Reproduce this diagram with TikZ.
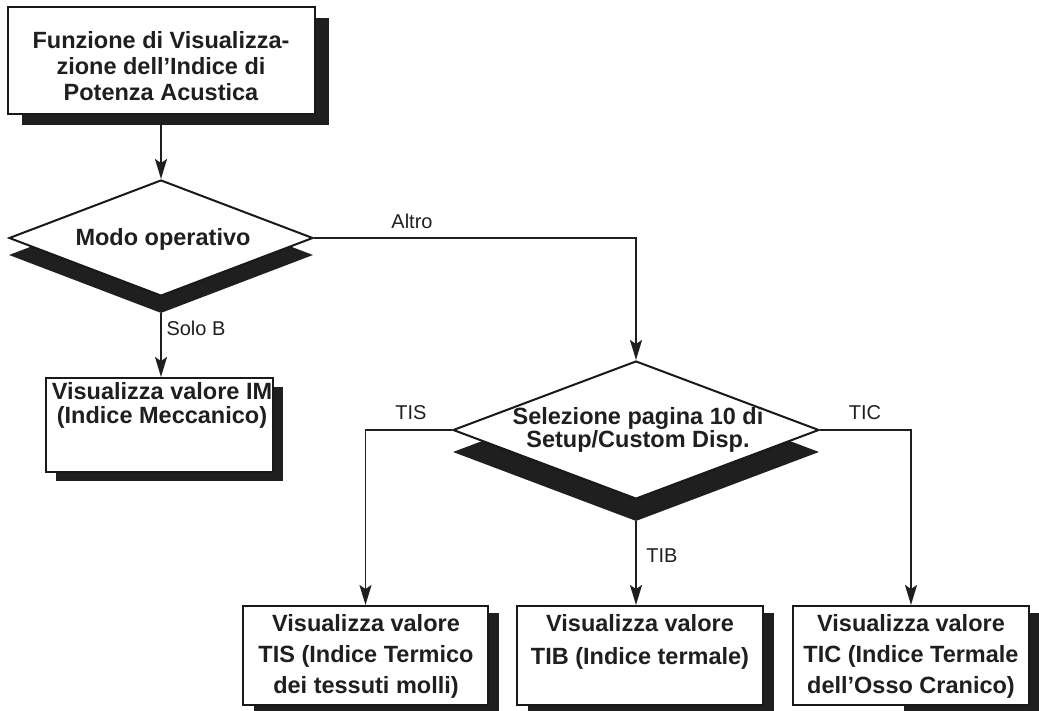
\documentclass[tikz,border=0pt]{standalone}
\usepackage{fontspec}
\setmainfont{Liberation Sans}
\usetikzlibrary{arrows.meta,shapes.geometric}
\begin{document}
\begin{tikzpicture}[x=1pt,y=-1pt,
  box/.style={draw=black!90,line width=2pt,fill=white,inner sep=0pt},
  shadowbox/.style={fill=black!88,draw=none,inner sep=0pt},
  dia/.style={diamond,draw=black!90,line width=2pt,fill=white,inner sep=0pt},
  diashadow/.style={diamond,fill=black!88,draw=none,inner sep=0pt},
  btext/.style={font=\fontsize{23.5}{26}\selectfont\bfseries,align=center,text=black!88,inner sep=0pt},
  ltext/.style={font=\fontsize{20}{24}\selectfont,text=black!88,inner sep=0pt},
  conn/.style={line width=1.9pt,draw=black!88},
  arr/.style={conn,-{Stealth[length=20pt,width=12pt,inset=4pt]}}]
\useasboundingbox (0,0) rectangle (1039,711);

% top box
\node[shadowbox,minimum width=307pt,minimum height=107pt] (tops) at (175,71.5) {};
\node[box,minimum width=307pt,minimum height=107pt] (top) at (161,60.5) {};
\node[btext] (toptxt) at (161,66) {Funzione di Visualizza-\\zione dell'Indice di\\Potenza Acustica};

% diamond 1
\node[diashadow,minimum width=304pt,minimum height=116pt] (d1s) at (161,255) {};
\node[dia,minimum width=304pt,minimum height=116pt] (d1) at (161,238) {};
\node[btext] (d1txt) at (163,239) {Modo operativo};

% IM box
\node[shadowbox,minimum width=227pt,minimum height=94pt] (ims) at (169.5,434) {};
\node[box,minimum width=227pt,minimum height=94pt] (im) at (159.5,425) {};
\node[btext,font=\fontsize{23.5}{24}\selectfont\bfseries] (imtxt) at (162,405) {Visualizza valore IM\\(Indice Meccanico)};

% diamond 2
\node[diashadow,minimum width=366pt,minimum height=138pt] (d2s) at (636,452) {};
\node[dia,minimum width=366pt,minimum height=138pt] (d2) at (636,430) {};
\node[btext,font=\fontsize{23.5}{22}\selectfont\bfseries] (d2txt) at (638,430) {Selezione pagina 10 di\\Setup/Custom Disp.};

% bottom boxes
\node[shadowbox,minimum width=245pt,minimum height=99pt] (tiss) at (376.5,662.5) {};
\node[box,minimum width=245pt,minimum height=99pt] (tis) at (365.5,655.5) {};
\node[btext,font=\fontsize{23.5}{31}\selectfont\bfseries] (tistxt) at (366,656) {Visualizza valore\\TIS (Indice Termico\\dei tessuti molli)};

\node[shadowbox,minimum width=246pt,minimum height=99pt] (tibs) at (651,662.5) {};
\node[box,minimum width=246pt,minimum height=99pt] (tib) at (640,655.5) {};
\node[btext,font=\fontsize{23.5}{33}\selectfont\bfseries] (tibtxt) at (640,642) {Visualizza valore\\TIB (Indice termale)};

\node[shadowbox,minimum width=236pt,minimum height=99pt] (tics) at (1022,662.5) {};
\node[box,minimum width=236pt,minimum height=99pt] (tic) at (911,655.5) {};
\node[btext,font=\fontsize{23.5}{31}\selectfont\bfseries] (tictxt) at (911,656) {Visualizza valore\\TIC (Indice Termale\\dell'Osso Cranico)};

% connectors
\draw[arr] (top.south -| d1.north) -- (d1.north);
\draw[arr] (d1s.south) -- (d1s.south |- im.north);
\draw[arr] (d1.east) -| (d2.north);
\draw[arr] (d2.west) -| (tis.north);
\draw[arr] (d2s.south) -- (d2s.south |- tib.north);
\draw[arr] (d2.east) -| (tic.north);

% labels
\node[ltext] (altro) at (412,221) {Altro};
\node[ltext] (solob) at (196,328) {Solo B};
\node[ltext] (tislab) at (411,413) {TIS};
\node[ltext] (ticlab) at (865,413) {TIC};
\node[ltext] (tiblab) at (662,556) {TIB};
\end{tikzpicture}
\end{document}
